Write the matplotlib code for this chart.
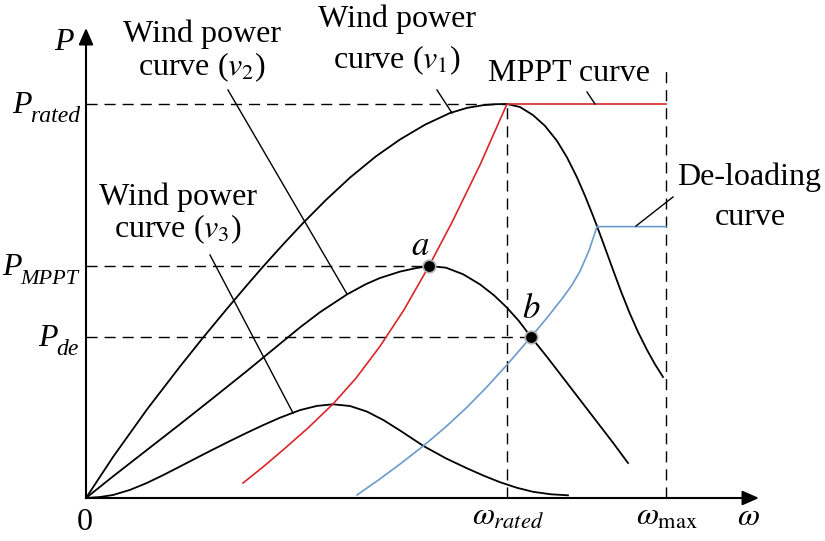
from matplotlib import pyplot as plt

plt.rcParams['font.family'] = ['Liberation Serif', 'DejaVu Serif']
plt.rcParams['mathtext.fontset'] = 'stix'

# ---------------------------------------------------------------------------
#   dati (unita' arbitrarie: omega, P)
# ---------------------------------------------------------------------------
v1_w = [0, 27, 61, 94, 117, 141, 160, 177, 197, 217, 240, 264, 290, 314, 339, 364, 381, 397, 409, 421,
        434, 447, 459, 471, 481, 491, 499, 507, 511, 518, 527, 535, 544, 552, 561, 569, 577]
v1_p = [0, 41, 88.6, 131.5, 160.3, 189.3, 211.7, 231.3, 253.5, 274.9, 298.1, 320.4, 341.7, 358.5, 373.3,
        385, 390.1, 392.8, 393.8, 394,
        391, 382.9, 372.1, 357.1, 340.6, 320.6, 302.2, 282.2, 271.8, 252.9, 228.2, 206.6, 184.1, 166.1,
        148.1, 133.7, 121]

v2_w = [0, 27, 61, 94, 127, 161, 194, 214, 234, 261, 280, 294, 314, 329, 343, 360, 377, 394, 408, 421,
        433, 445, 461, 477, 494, 511, 527, 542]
v2_p = [0, 21.6, 48.1, 73.8, 99.9, 127.1, 154.2, 170.6, 185.8, 203.6, 213.9, 220, 226.4, 229.7, 232,
        230.3, 223.8, 213.6, 202.7, 190.3, 176.9, 161, 141.1, 120.3, 98.2, 76.1, 55.3, 35]

v3_w = [0, 14, 27, 44, 61, 77, 94, 110, 127, 144, 161, 177, 194, 214, 231, 247, 264, 281, 298, 314,
        338, 360, 381, 398, 414, 431, 447, 465, 482]
v3_p = [0, 1, 3, 8.1, 15.1, 22.8, 31.5, 39.8, 48.5, 57, 65.3, 72.8, 80.3, 87.9, 92.1, 93.7, 92, 86.4,
        77.6, 67.5, 51.7, 39.6, 29.7, 22.2, 15.8, 10.2, 6.2, 3.7, 2.7]

mppt_w = [157, 177, 197, 222, 247, 270, 294, 318, 343, 366, 394, 421, 580]
mppt_p = [15, 31, 48, 70, 94, 119.8, 151.7, 188.2, 232, 275.7, 333.1, 394, 394]

deload_w = [271, 293, 314, 338, 360, 381, 401, 421, 445, 461, 477, 486, 494, 503, 511, 580]
deload_p = [3, 18.4, 33.9, 52.6, 71.3, 90.8, 111.2, 133.2, 161, 180.2, 200.5, 213.1, 226.7, 247.4, 271.4, 271.4]

w_rated = 421
w_max = 580
w_max_top = 430
p_rated = 394
p_mppt = 232
p_de = 161
point_a = (343, 232)
point_b = (445, 161)

# linee di richiamo (da etichetta a curva)
leaders = [
    ((142, 408), (261, 204)),   # v2
    ((351, 408), (366, 385)),   # v1
    ((124, 243), (207, 85)),    # v3
    ((501, 406), (509, 394)),   # MPPT
    ((550, 272), (587, 301)),   # de-loading
]

red = '#d9262b'
blue = '#6a9bcc'
dash = (0, (8, 5))
fs = 23
fs_sub = 17

fig = plt.figure(figsize=(8.25, 5.41), dpi=100)
ax = fig.add_axes([0, 0, 1, 1])
ax.set_xlim(-86, 739)
ax.set_ylim(-43, 498)
ax.axis('off')

# ---------------------------------------------------------------------------
#   assi con frecce
# ---------------------------------------------------------------------------
arrow = dict(arrowstyle='-|>,head_length=0.5,head_width=0.22', lw=1.5, color='k',
             mutation_scale=20, shrinkA=0, shrinkB=0)
ax.annotate('', xy=(673, 0), xytext=(0, 0), arrowprops=arrow)
ax.annotate('', xy=(0, 470), xytext=(0, 0), arrowprops=arrow)

# ---------------------------------------------------------------------------
#   linee tratteggiate
# ---------------------------------------------------------------------------
ax.plot([0, w_rated], [p_rated, p_rated], color='k', lw=1.0, ls=dash)
ax.plot([w_rated, w_rated], [0, p_rated], color='k', lw=1.0, ls=dash)
ax.plot([0, point_a[0]], [p_mppt, p_mppt], color='k', lw=1.0, ls=dash)
ax.plot([0, point_b[0]], [p_de, p_de], color='k', lw=1.0, ls=dash)
ax.plot([w_max, w_max], [0, w_max_top], color='k', lw=1.0, ls=dash)

# ---------------------------------------------------------------------------
#   curve
# ---------------------------------------------------------------------------
ax.plot(v1_w, v1_p, color='k', lw=1.3, solid_joinstyle='round')
ax.plot(v2_w, v2_p, color='k', lw=1.3, solid_joinstyle='round')
ax.plot(v3_w, v3_p, color='k', lw=1.3, solid_joinstyle='round')
ax.plot(mppt_w, mppt_p, color=red, lw=1.2, solid_joinstyle='round')
ax.plot(deload_w, deload_p, color=blue, lw=1.2, solid_joinstyle='round')

for (x0, y0), (x1, y1) in leaders:
    ax.plot([x0, x1], [y0, y1], color='k', lw=1.0)

ax.plot(*point_a, 'o', ms=9, mfc='k', mec='#b0b0b0', mew=1.2, zorder=5)
ax.plot(*point_b, 'o', ms=9, mfc='k', mec='#b0b0b0', mew=1.2, zorder=5)

# ---------------------------------------------------------------------------
#   testi
# ---------------------------------------------------------------------------
ax.text(116, 456, 'Wind power', fontsize=fs, ha='center', va='baseline')
ax.text(116, 423, 'curve ($v_2$)', fontsize=fs, ha='center', va='baseline')
ax.text(311, 471, 'Wind power', fontsize=fs, ha='center', va='baseline')
ax.text(311, 430, 'curve ($v_1$)', fontsize=fs, ha='center', va='baseline')
ax.text(92, 293, 'Wind power', fontsize=fs, ha='center', va='baseline')
ax.text(92, 261, 'curve ($v_3$)', fontsize=fs, ha='center', va='baseline')
ax.text(483, 417, 'MPPT curve', fontsize=fs, ha='center', va='baseline')
ax.text(663, 313, 'De-loading', fontsize=fs, ha='center', va='baseline')
ax.text(664, 273, 'curve', fontsize=fs, ha='center', va='baseline')

ax.text(-22, 448, 'P', fontsize=fs, style='italic', ha='center', va='baseline')

# etichette P con pedice
p_labels = [(p_rated, -74, -56, 'rated'), (p_mppt, -84, -66, 'MPPT'), (p_de, -48, -30, 'de')]
for level, x_p, x_sub, sub in p_labels:
    ax.text(x_p, level - 9, 'P', fontsize=fs, style='italic', ha='left', va='baseline')
    ax.text(x_sub, level - 18, sub, fontsize=fs_sub if sub != 'MPPT' else 16,
            style='italic', ha='left', va='baseline')

ax.text(-1, -32, '0', fontsize=fs, ha='center', va='baseline')
ax.text(w_rated + 1, -27, r'$\omega_{rated}$', fontsize=fs, ha='center', va='baseline')
ax.text(w_max + 1, -27, r'$\omega_{\max}$', fontsize=fs, ha='center', va='baseline')
ax.text(662, -27, r'$\omega$', fontsize=fs, ha='center', va='baseline')

ax.text(334, 243, '$a$', fontsize=fs + 2, ha='center', va='baseline')
ax.text(445, 180, '$b$', fontsize=fs + 2, ha='center', va='baseline')

plt.savefig('out.png', dpi=100)
